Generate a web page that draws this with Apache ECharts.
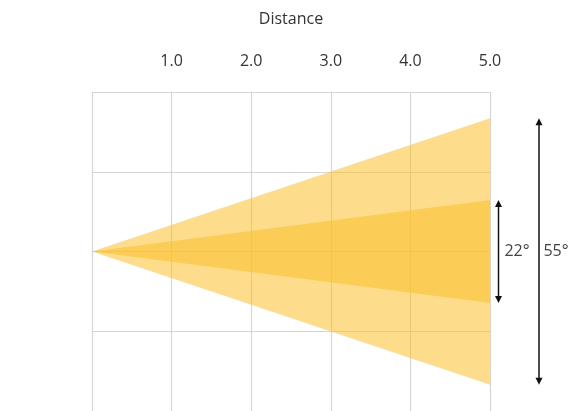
<!DOCTYPE html>
<html>
<head>
<meta charset="utf-8">
<script src="https://cdn.jsdelivr.net/npm/echarts@6/dist/echarts.min.js"></script>
<style>html,body{margin:0;padding:0;background:#fff;}#c{width:571px;height:411px;}</style>
</head>
<body>
<div id="c"></div>
<script>
// Data
var xTicks = [0, 1, 2, 3, 4, 5];
var coneDistance = 5;
var wideHalfWidth = 1.67;    // half-spread of wide cone at distance 5
var narrowHalfWidth = 0.645; // half-spread of narrow cone at distance 5
var angleLabels = ['55°', '22°'];

var cones = [
  [[0, 0], [coneDistance, wideHalfWidth], [coneDistance, -wideHalfWidth]],
  [[0, 0], [coneDistance, narrowHalfWidth], [coneDistance, -narrowHalfWidth]]
];
var arrows = [
  {x: coneDistance, top: wideHalfWidth, bottom: -wideHalfWidth, label: angleLabels[0], off: 49, labOff: 66},
  {x: coneDistance, top: narrowHalfWidth, bottom: -narrowHalfWidth, label: angleLabels[1], off: 8.5, labOff: 27}
];

var FONT = 'Open Sans';
var chart = echarts.init(document.getElementById('c'), null, {renderer: 'canvas'});

function arrowHead(x, y, dir) {
  return {
    type: 'polygon',
    shape: {points: [[x, y], [x - 3.5, y - dir * 7], [x + 3.5, y - dir * 7]]},
    style: {fill: '#111'}
  };
}

chart.setOption({
  animation: false,
  grid: {left: 92, right: 81, top: 92, bottom: -1, containLabel: false},
  xAxis: {
    type: 'value', position: 'top', min: 0, max: 5, interval: 1,
    name: 'Distance', nameLocation: 'middle', nameGap: 65,
    nameTextStyle: {fontFamily: FONT, fontSize: 16, color: '#333'},
    axisLine: {show: false}, axisTick: {show: false},
    axisLabel: {
      margin: 23, fontFamily: FONT, fontSize: 16, color: '#333',
      formatter: function (v) { return v === 0 ? '' : v.toFixed(1); }
    },
    splitLine: {show: true, lineStyle: {color: '#d6d6d6', width: 1.2}}
  },
  yAxis: {
    type: 'value', min: -2, max: 2, interval: 1,
    axisLine: {show: false}, axisTick: {show: false}, axisLabel: {show: false},
    splitLine: {show: true, lineStyle: {color: '#d6d6d6', width: 1.2}}
  },
  series: [
    {
      type: 'custom',
      clip: false,
      data: cones.map(function (c, i) { return [i]; }),
      renderItem: function (params, api) {
        var pts = cones[api.value(0)].map(function (p) { return api.coord(p); });
        return {type: 'polygon', shape: {points: pts}, style: {fill: 'rgba(252,192,40,0.54)'}};
      },
      z: 3
    },
    {
      type: 'custom',
      clip: false,
      data: arrows.map(function (a, i) { return [i]; }),
      renderItem: function (params, api) {
        var a = arrows[api.value(0)];
        var t = api.coord([a.x, a.top]);
        var b = api.coord([a.x, a.bottom]);
        var x = t[0] + a.off;
        var y1 = t[1], y2 = b[1];
        return {
          type: 'group',
          children: [
            {type: 'line', shape: {x1: x, y1: y1 + 4, x2: x, y2: y2 - 4}, style: {stroke: '#111', lineWidth: 1.5}},
            arrowHead(x, y1, -1),
            arrowHead(x, y2, 1),
            {type: 'text', style: {text: a.label, x: t[0] + a.labOff, y: (y1 + y2) / 2,
              textAlign: 'center', textVerticalAlign: 'middle', fontFamily: FONT, fontSize: 16, fill: '#444'}}
          ]
        };
      },
      z: 5
    }
  ]
});
</script>
</body>
</html>
